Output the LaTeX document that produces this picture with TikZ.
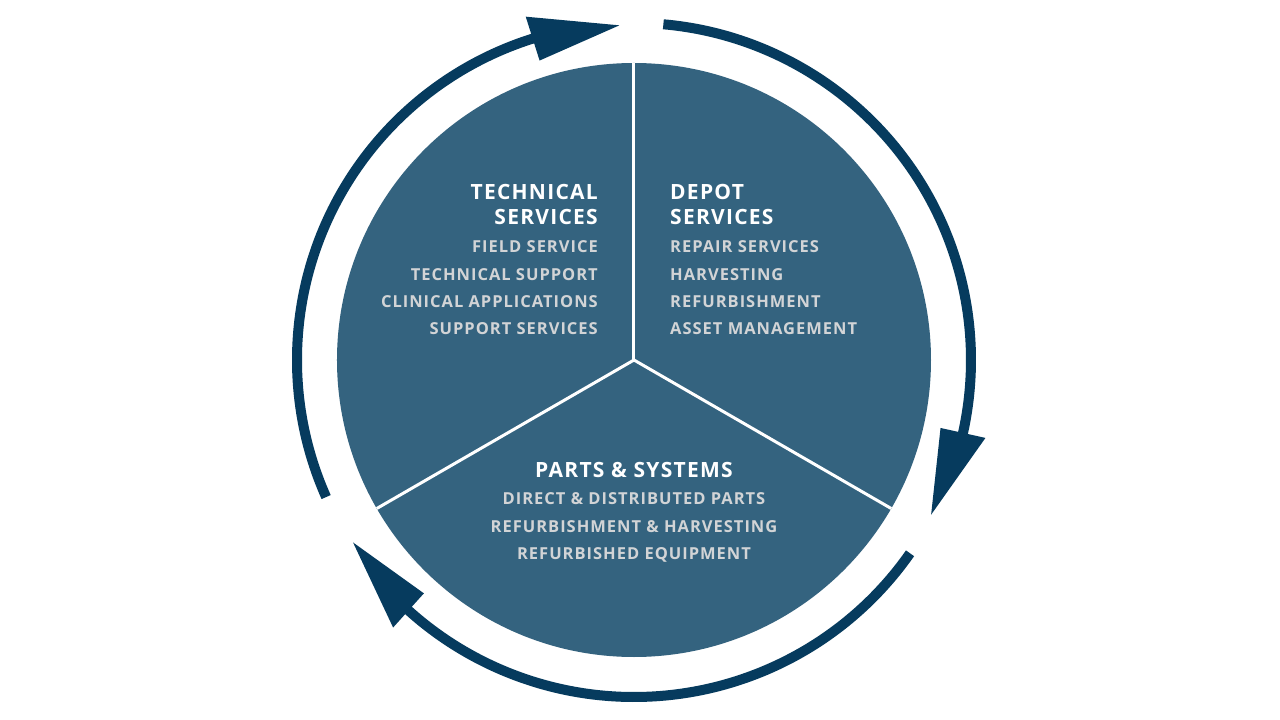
\documentclass[tikz,border=0pt]{standalone}
\usepackage{fontspec}
\newfontfamily\osfont{Open Sans}[LetterSpace=6]
\definecolor{pie}{HTML}{34637F}
\definecolor{navy}{HTML}{063B5E}
\definecolor{itemgray}{HTML}{D2D4D6}
\tikzset{
  head/.style={text=white,inner sep=0pt,font=\osfont\bfseries\fontsize{21pt}{25pt}\selectfont},
  item/.style={text=itemgray,inner sep=0pt,font=\osfont\bfseries\fontsize{16.5pt}{20pt}\selectfont},
  ring/.style={draw=navy,line width=10pt},
  tipfill/.style={fill=navy,draw=none},
  divider/.style={draw=white,line width=3pt}
}
\begin{document}
\begin{tikzpicture}[x=1pt,y=1pt]
\useasboundingbox[fill=white] (-634,-360) rectangle (646,360);
% pie
\fill[pie] (0,0) circle[radius=297pt];
\coordinate (c) at (0,0);
\coordinate (d1) at (90:297pt);
\coordinate (d2) at (210:297pt);
\coordinate (d3) at (330:297pt);
\draw[divider] (c) -- (d1);
\draw[divider] (c) -- (d2);
\draw[divider] (c) -- (d3);
% arcs
\draw[ring] (85:337pt) arc[start angle=85, end angle=-13.5, radius=337pt];
\fill[tipfill] (-27.5:335pt) -- (-12.5:314pt) -- (-12.5:360pt) -- cycle;
\draw[ring] (-35:337pt) arc[start angle=-35, end angle=-133, radius=337pt];
\fill[tipfill] (-147:335pt) -- (-132:314pt) -- (-132:360pt) -- cycle;
\draw[ring] (204:337pt) arc[start angle=204, end angle=106.5, radius=337pt];
\fill[tipfill] (92.5:335pt) -- (107.5:314pt) -- (107.5:360pt) -- cycle;
% left block
\node[head,anchor=base east] (t1) at (-36,160) {TECHNICAL};
\node[head,anchor=base east] (t2) at (-36,135) {SERVICES};
\node[item,anchor=base east] (t3) at (-36,107) {FIELD SERVICE};
\node[item,anchor=base east] (t4) at (-36,79) {TECHNICAL SUPPORT};
\node[item,anchor=base east] (t5) at (-36,52) {CLINICAL APPLICATIONS};
\node[item,anchor=base east] (t6) at (-36,25) {SUPPORT SERVICES};
% right block
\node[head,anchor=base west] (r1) at (36,160) {DEPOT};
\node[head,anchor=base west] (r2) at (36,135) {SERVICES};
\node[item,anchor=base west] (r3) at (36,107) {REPAIR SERVICES};
\node[item,anchor=base west] (r4) at (36,79) {HARVESTING};
\node[item,anchor=base west] (r5) at (36,52) {REFURBISHMENT};
\node[item,anchor=base west] (r6) at (36,25) {ASSET MANAGEMENT};
% bottom block
\node[head,anchor=base] (p1) at (0,-117) {PARTS \& SYSTEMS};
\node[item,anchor=base] (p2) at (0,-144) {DIRECT \& DISTRIBUTED PARTS};
\node[item,anchor=base] (p3) at (0,-172) {REFURBISHMENT \& HARVESTING};
\node[item,anchor=base] (p4) at (0,-199) {REFURBISHED EQUIPMENT};
\end{tikzpicture}
\end{document}
